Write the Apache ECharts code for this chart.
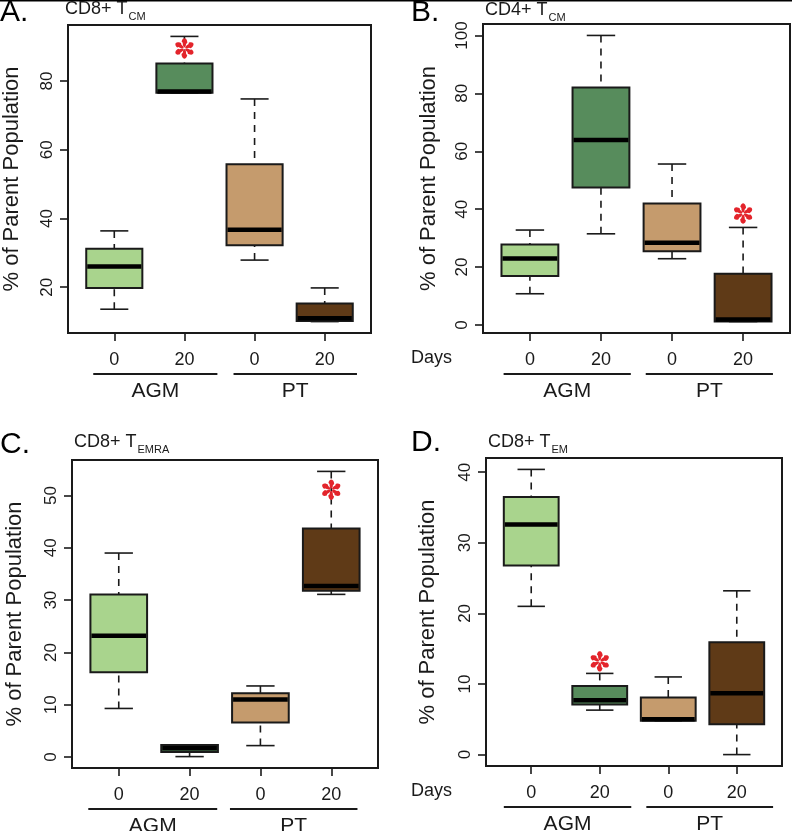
<!DOCTYPE html>
<html>
<head>
<meta charset="utf-8">
<script src="https://cdn.jsdelivr.net/npm/echarts@6/dist/echarts.min.js"></script>
<style>
html, body { margin: 0; padding: 0; background: #fff; }
#main { width: 792px; height: 831px; }
</style>
</head>
<body>
<div id="main"></div>
<script>
// box positions on the x scale, day labels under the ticks, group names
var boxX = [1, 2, 3, 4];
var dayLabels = ['0', '20', '0', '20'];
var groupNames = ['AGM', 'PT'];
var boxColors = ['#a9d48d', '#578c5c', '#c59b6d', '#5f3a17'];

// [min, Q1, median, Q3, max] for AGM d0, AGM d20, PT d0, PT d20
var cd8Tcm   = [[13.6, 19.8, 26.0, 31.2, 36.4], [76.6, 76.6, 77.0, 85.1, 93.0], [27.9, 32.2, 36.7, 55.8, 74.8], [10.0, 10.2, 11.0, 15.3, 19.8]];
var cd4Tcm   = [[10.8, 16.9, 23.0, 27.8, 32.8], [31.5, 47.5, 63.9, 82.0, 100.0], [22.9, 25.5, 28.4, 42.0, 55.6], [1.2, 1.2, 1.9, 17.7, 33.7]];
var cd8Temra = [[9.3, 16.2, 23.2, 31.1, 39.0], [0.1, 1.0, 1.7, 2.3, 2.3], [2.2, 6.6, 11.0, 12.2, 13.6], [31.1, 31.8, 32.7, 43.7, 54.6]];
var cd8Tem   = [[21.0, 26.8, 32.6, 36.5, 40.4], [6.3, 7.1, 7.7, 9.7, 11.5], [4.8, 4.8, 5.0, 8.1, 11.0], [0.0, 4.3, 8.7, 15.9, 23.2]];

// y tick labels
var ticksA = [20, 40, 60, 80];
var ticksB = [0, 20, 40, 60, 80, 100];
var ticksC = [0, 10, 20, 30, 40, 50];
var ticksD = [0, 10, 20, 30, 40];

// red significance stars [x, y]
var starA = [[2, 89.5]];
var starB = [[4, 38.5]];
var starC = [[4, 51.1]];
var starD = [[2, 13.2]];

// underline spans for AGM / PT (x units)
var spansA = [[0.70, 2.47], [2.70, 4.46]];
var spansB = [[0.63, 2.42], [2.63, 4.42]];
var spansC = [[0.57, 2.39], [2.57, 4.37]];
var spansD = [[0.60, 2.46], [2.68, 4.53]];

var FONT = 'Liberation Sans, Arial, Helvetica, sans-serif';
var INK = '#1a1a1a';
var RED = '#e3242b';

var panels = [
    {letter: 'A.', title: 'CD8+ T', sub: 'CM', stats: cd8Tcm, ticks: ticksA, star: starA, spans: spansA, days: false,
     grid: {left: 63, top: 25, width: 308, height: 308}, nameGap: 45, letterY: 13, titleY: 9},
    {letter: 'B.', title: 'CD4+ T', sub: 'CM', stats: cd4Tcm, ticks: ticksB, star: starB, spans: spansB, days: true,
     grid: {left: 483, top: 24, width: 307, height: 309}, nameGap: 43, letterY: 13, titleY: 10},
    {letter: 'C.', title: 'CD8+ T', sub: 'EMRA', stats: cd8Temra, ticks: ticksC, star: starC, spans: spansC, days: false,
     grid: {left: 72, top: 460, width: 306, height: 308}, nameGap: 46, letterY: 445, titleY: 442},
    {letter: 'D.', title: 'CD8+ T', sub: 'EM', stats: cd8Tem, ticks: ticksD, star: starD, spans: spansD, days: true,
     grid: {left: 486, top: 458, width: 296, height: 308}, nameGap: 47, letterY: 443, titleY: 442}
];

var measureCtx = document.createElement('canvas').getContext('2d');
function textWidth(t, size) {
    measureCtx.font = size + 'px ' + FONT;
    return measureCtx.measureText(t).width;
}

function renderBox(params, api) {
    var x = api.value(0);
    var lo = api.coord([x, api.value(1)]);
    var q1 = api.coord([x, api.value(2)]);
    var md = api.coord([x, api.value(3)]);
    var q3 = api.coord([x, api.value(4)]);
    var hi = api.coord([x, api.value(5)]);
    var w = api.size([0.8, 0])[0];
    var cx = lo[0];
    var dash = {stroke: INK, lineWidth: 1.6, lineDash: [7, 6]};
    var solid = {stroke: INK, lineWidth: 1.6};
    return {
        type: 'group',
        children: [
            {type: 'line', shape: {x1: cx, y1: hi[1], x2: cx, y2: q3[1]}, style: dash},
            {type: 'line', shape: {x1: cx, y1: lo[1], x2: cx, y2: q1[1]}, style: dash},
            {type: 'line', shape: {x1: cx - w / 4, y1: hi[1], x2: cx + w / 4, y2: hi[1]}, style: solid},
            {type: 'line', shape: {x1: cx - w / 4, y1: lo[1], x2: cx + w / 4, y2: lo[1]}, style: solid},
            {type: 'rect', shape: {x: cx - w / 2, y: q3[1], width: w, height: q1[1] - q3[1]},
             style: {fill: boxColors[api.value(6)], stroke: INK, lineWidth: 2}},
            {type: 'line', shape: {x1: cx - w / 2 + 1, y1: md[1], x2: cx + w / 2 - 1, y2: md[1]},
             style: {stroke: '#000', lineWidth: 4.5}}
        ]
    };
}

// six teardrop-like petals around the point
function renderStar(params, api) {
    var p = api.coord([api.value(0), api.value(1)]);
    var kids = [];
    for (var k = 0; k < 6; k++) {
        var a = Math.PI / 2 + k * Math.PI / 3;
        var dx = Math.cos(a), dy = -Math.sin(a);
        var nx = -dy, ny = dx;
        var pcx = p[0] + dx * 5.6, pcy = p[1] + dy * 5.6;
        var pts = [];
        for (var t = 0; t < 24; t++) {
            var th = t / 24 * Math.PI * 2;
            var rx = 4.6 * Math.cos(th), ry = (Math.cos(th) > 0 ? 2.9 : 1.7) * Math.sin(th);
            pts.push([pcx + dx * rx + nx * ry, pcy + dy * rx + ny * ry]);
        }
        kids.push({type: 'polygon', shape: {points: pts}, style: {fill: RED}});
    }
    return {type: 'group', children: kids};
}

function renderGroup(params, api) {
    var a = api.coord([api.value(0), 0])[0];
    var b = api.coord([api.value(1), 0])[0];
    var cs = params.coordSys;
    var y = cs.y + cs.height + 41;
    return {
        type: 'group',
        children: [
            {type: 'line', shape: {x1: a, y1: y, x2: b, y2: y}, style: {stroke: INK, lineWidth: 2}},
            {type: 'text', style: {text: groupNames[params.dataIndex], x: (a + b) / 2, y: y + 17,
                align: 'center', verticalAlign: 'middle', fontSize: 21, fontFamily: FONT, fill: INK}}
        ]
    };
}

var grids = [], xAxes = [], yAxes = [], series = [], graphics = [];

graphics.push({type: 'line', shape: {x1: 0, y1: 0.5, x2: 792, y2: 0.5}, style: {stroke: '#000', lineWidth: 2}});

panels.forEach(function (p, i) {
    var lo = Infinity, hi = -Infinity;
    p.stats.forEach(function (s) { lo = Math.min(lo, s[0]); hi = Math.max(hi, s[4]); });
    var pad = (hi - lo) * 0.04;

    grids.push({left: p.grid.left, top: p.grid.top, width: p.grid.width, height: p.grid.height,
                show: true, borderColor: INK, borderWidth: 2, backgroundColor: 'transparent'});

    xAxes.push({
        gridIndex: i, type: 'value', min: 0.34, max: 4.66,
        splitLine: {show: false}, axisLine: {show: false, onZero: false},
        axisTick: {show: true, length: 8, customValues: boxX, lineStyle: {color: INK, width: 1.6}},
        axisLabel: {customValues: boxX, fontSize: 18, fontFamily: FONT, color: INK, margin: 18,
                    formatter: function (v) { return dayLabels[Math.round(v) - 1]; }}
    });

    yAxes.push({
        gridIndex: i, type: 'value', min: lo - pad, max: hi + pad,
        splitLine: {show: false}, axisLine: {show: false, onZero: false},
        axisTick: {show: true, length: 8, customValues: p.ticks, lineStyle: {color: INK, width: 1.6}},
        axisLabel: {customValues: p.ticks, rotate: 90, fontSize: 17, fontFamily: FONT, color: INK, margin: 12},
        name: '% of Parent Population', nameLocation: 'middle', nameGap: p.nameGap,
        nameTextStyle: {fontSize: 22, fontFamily: FONT, color: INK}
    });

    series.push({
        type: 'custom', xAxisIndex: i, yAxisIndex: i, renderItem: renderBox,
        encode: {x: 0, y: [1, 2, 3, 4, 5]},
        data: p.stats.map(function (s, k) { return [boxX[k], s[0], s[1], s[2], s[3], s[4], k]; }),
        silent: true, animation: false
    });
    series.push({
        type: 'custom', xAxisIndex: i, yAxisIndex: i, renderItem: renderStar,
        data: p.star, silent: true, animation: false, z: 5
    });
    series.push({
        type: 'custom', xAxisIndex: i, yAxisIndex: i, renderItem: renderGroup, clip: false,
        data: p.spans, silent: true, animation: false
    });

    // panel letter and title with subscript
    var tx = p.grid.left + 2;
    graphics.push({type: 'text', x: i % 2 ? 411 : 0, y: p.letterY,
        style: {text: p.letter, fontSize: 30, fontFamily: FONT, fill: '#000', verticalAlign: 'middle'}});
    graphics.push({type: 'text', x: tx, y: p.titleY,
        style: {text: p.title, fontSize: 18, fontFamily: FONT, fill: INK, verticalAlign: 'middle'}});
    graphics.push({type: 'text', x: tx + textWidth(p.title, 18) + 1, y: p.titleY + 8,
        style: {text: p.sub, fontSize: 11, fontFamily: FONT, fill: INK, verticalAlign: 'middle'}});
    if (p.days) {
        graphics.push({type: 'text', x: 411, y: p.grid.top + p.grid.height + 25,
            style: {text: 'Days', fontSize: 18, fontFamily: FONT, fill: INK, verticalAlign: 'middle'}});
    }
});

var chart = echarts.init(document.getElementById('main'));
chart.setOption({
    animation: false,
    backgroundColor: '#fff',
    grid: grids,
    xAxis: xAxes,
    yAxis: yAxes,
    series: series,
    graphic: graphics
});
</script>
</body>
</html>
